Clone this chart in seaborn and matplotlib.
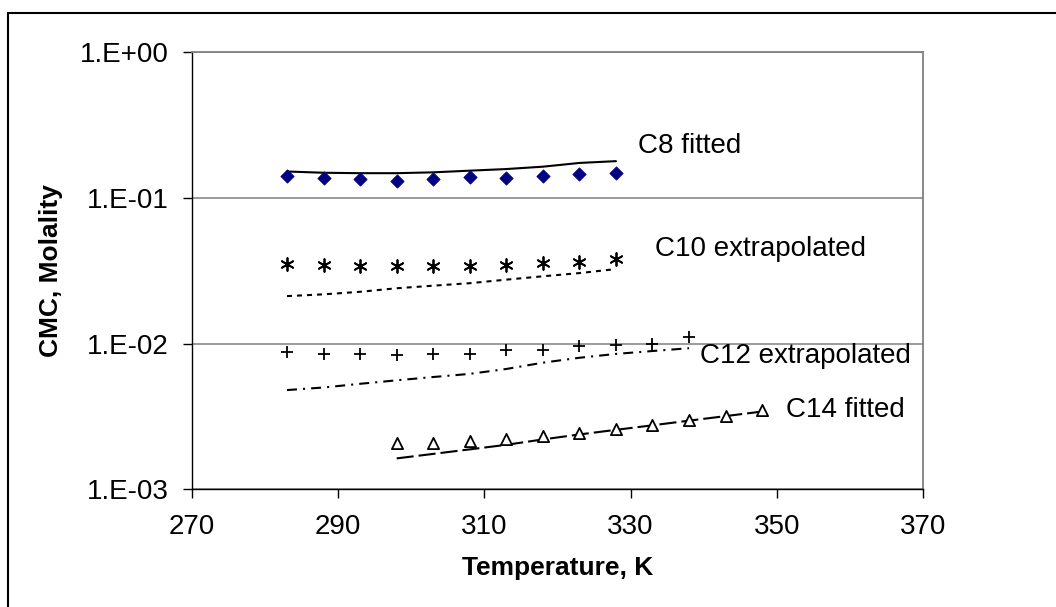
import matplotlib
matplotlib.use("Agg")
import matplotlib.pyplot as plt
import matplotlib.patches as patches
import seaborn as sns

# Data
temps_c8 = [283, 288, 293, 298, 303, 308, 313, 318, 323, 328]
cmc_c8 = [0.142, 0.137, 0.134, 0.130, 0.134, 0.139, 0.137, 0.142, 0.146, 0.148]
fit_c8 = [0.152, 0.149, 0.148, 0.148, 0.150, 0.154, 0.158, 0.164, 0.174, 0.179]

temps_c10 = [283, 288, 293, 298, 303, 308, 313, 318, 323, 328]
cmc_c10 = [0.0350, 0.0347, 0.0340, 0.0340, 0.0340, 0.0340, 0.0347, 0.0355, 0.0362, 0.0383]
fit_c10 = [0.0212, 0.0218, 0.0227, 0.0240, 0.0250, 0.0260, 0.0275, 0.0290, 0.0305, 0.0325]

temps_c12 = [283, 288, 293, 298, 303, 308, 313, 318, 323, 328, 333, 338]
cmc_c12 = [0.0087, 0.0085, 0.0085, 0.0083, 0.0085, 0.0085, 0.0090, 0.0091, 0.0096, 0.0098, 0.0100, 0.0111]
fit_c12 = [0.0048, 0.0050, 0.0053, 0.0056, 0.0059, 0.0062, 0.0067, 0.0074, 0.0080, 0.0085, 0.0089, 0.0093]

temps_c14 = [298, 303, 308, 313, 318, 323, 328, 333, 338, 343, 348]
cmc_c14 = [0.00207, 0.00209, 0.00213, 0.00221, 0.00233, 0.00245, 0.00259, 0.00277, 0.00300, 0.00319, 0.00348]
fit_c14 = [0.00163, 0.00175, 0.00188, 0.00202, 0.00220, 0.00238, 0.00256, 0.00275, 0.00296, 0.00318, 0.00342]

x_ticks = [270, 290, 310, 330, 350, 370]
y_ticks = [1e-3, 1e-2, 1e-1, 1e0]
y_tick_labels = ["1.E-03", "1.E-02", "1.E-01", "1.E+00"]


def plot_cmc(output_file):
    sns.set_theme(style="white")
    plt.rcParams['font.family'] = ['Liberation Sans', 'DejaVu Sans']
    plt.rcParams['text.color'] = 'black'
    plt.rcParams['axes.labelcolor'] = 'black'

    fig = plt.figure(figsize=(10.56, 6.07), dpi=100)
    ax = fig.add_axes([0.1818, 0.1939, 0.6922, 0.7199])

    # Fitted / extrapolated curves
    sns.lineplot(x=temps_c8, y=fit_c8, ax=ax, color="black", lw=1.5, linestyle="-")
    sns.lineplot(x=temps_c10, y=fit_c10, ax=ax, color="black", lw=1.5,
                 linestyle=(0, (2.4, 2.4)))
    sns.lineplot(x=temps_c12, y=fit_c12, ax=ax, color="black", lw=1.5,
                 linestyle=(0, (4.8, 2.9, 1.0, 2.9)))
    sns.lineplot(x=temps_c14, y=fit_c14, ax=ax, color="black", lw=1.5,
                 linestyle=(0, (8.2, 2.4)))

    # Measured points
    sns.scatterplot(x=temps_c8, y=cmc_c8, ax=ax, marker="D", s=46,
                    color="#000080", edgecolor="#000080", zorder=5)
    sns.scatterplot(x=temps_c10, y=cmc_c10, ax=ax, marker=(6, 2, 0), s=85,
                    color="black", edgecolor="black", linewidth=1.3, zorder=5)
    sns.scatterplot(x=temps_c12, y=cmc_c12, ax=ax, marker="+", s=80,
                    color="black", linewidth=1.3, zorder=5)
    sns.scatterplot(x=temps_c14, y=cmc_c14, ax=ax, marker="^", s=65,
                    facecolor="white", edgecolor="black", linewidth=1.3, zorder=5)

    # Axes
    ax.set_yscale("log")
    ax.set_xlim(270, 370)
    ax.set_ylim(1e-3, 1e0)
    ax.set_xticks(x_ticks)
    ax.set_xticklabels([str(t) for t in x_ticks])
    ax.set_yticks(y_ticks)
    ax.set_yticklabels(y_tick_labels)
    ax.minorticks_off()
    ax.tick_params(axis="both", which="major", direction="out", length=6.5,
                   width=1, color="black", labelsize=20, labelcolor="black",
                   bottom=True, left=True)
    ax.tick_params(axis="y", pad=10)
    ax.tick_params(axis="x", pad=11)

    ax.yaxis.grid(True, color="#808080", lw=1.1)
    ax.xaxis.grid(False)
    for side in ["left", "bottom"]:
        ax.spines[side].set_color("black")
        ax.spines[side].set_linewidth(1.0)
    for side in ["top", "right"]:
        ax.spines[side].set_color("#808080")
        ax.spines[side].set_linewidth(1.3)

    ax.set_xlabel("Temperature, K", fontsize=19, fontweight="bold", color="black")
    ax.set_ylabel("CMC, Molality", fontsize=19, fontweight="bold", color="black")
    ax.xaxis.set_label_coords(0.5, -0.152)
    ax.yaxis.set_label_coords(-0.1765, 0.5)

    # Series labels
    ax.text(331.0, 0.229, "C8 fitted", fontsize=20, va="center", color="black")
    ax.text(333.3, 0.0444, "C10 extrapolated", fontsize=20, va="center", color="black")
    ax.text(339.5, 0.00818, "C12 extrapolated", fontsize=20, va="center", color="black")
    ax.text(351.3, 0.00351, "C14 fitted", fontsize=20, va="center", color="black")

    # Outer frame of the chart
    top = 1 - 12.7 / 607
    frame = patches.Rectangle((8 / 1056, -0.05), 1.2, top + 0.05,
                              transform=fig.transFigure, fill=False,
                              edgecolor="black", lw=1.5)
    fig.patches.append(frame)

    fig.savefig(output_file, dpi=100)


if __name__ == "__main__":
    plot_cmc("out.png")
